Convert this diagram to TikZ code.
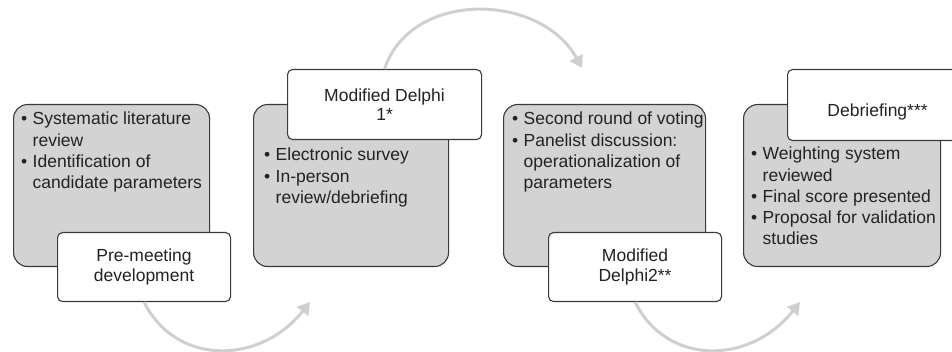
\documentclass[tikz,border=0pt]{standalone}
\usepackage{fontspec}
\setmainfont{Liberation Sans}
\usetikzlibrary{arrows.meta}

\definecolor{panelfill}{HTML}{D3D3D3}
\definecolor{edgegray}{HTML}{3A3A3A}
\definecolor{flowgray}{HTML}{CFCFCF}
\definecolor{inkgray}{HTML}{222222}

% bullet with a fixed-width hang, and the matching indent for wrapped lines
\newcommand{\bul}{\makebox[11.5pt][l]{\textbullet}}
\newcommand{\ind}{\hspace*{11.5pt}}

\begin{document}
\begin{tikzpicture}[x=1pt,y=-1pt,
  panel/.style={draw=edgegray, line width=1.1pt, fill=panelfill,
    rounded corners=14pt, anchor=north west, inner sep=0pt},
  tag/.style={draw=edgegray, line width=1.1pt, fill=white,
    rounded corners=5pt, anchor=north west, inner sep=0pt,
    align=center, text=inkgray, font=\fontsize{17.5}{19.5}\selectfont},
  itemtext/.style={anchor=base west, inner sep=0pt, text=inkgray},
  flow/.style={draw=flowgray, line width=3pt,
    -{Triangle[length=12pt,width=14pt]}}]

\useasboundingbox (0,0) rectangle (952,352);
\clip (0,0) rectangle (952,352);

% grey stage panels
\node[panel, minimum width=196pt, minimum height=162pt] (p1) at (13,104) {};
\node[panel, minimum width=195pt, minimum height=162pt] (p2) at (253,104) {};
\node[panel, minimum width=202pt, minimum height=162pt] (p3) at (503,104) {};
\node[panel, minimum width=197pt, minimum height=162pt] (p4) at (743,104) {};

% bullet lists inside the panels
\node[itemtext] (l1) at (21,125) {\parbox[t]{190pt}{\fontsize{17.5}{21.2}\selectfont
  \bul Systematic literature\\ \ind review\\
  \bul Identification of\\ \ind candidate parameters}};
\node[itemtext] (l2) at (264,161) {\parbox[t]{190pt}{\fontsize{17.5}{21.2}\selectfont
  \bul Electronic survey\\
  \bul In-person\\ \ind review/debriefing}};
\node[itemtext] (l3) at (512,125) {\parbox[t]{195pt}{\fontsize{17.5}{21.2}\selectfont
  \bul Second round of voting\\
  \bul Panelist discussion:\\ \ind operationalization of\\ \ind parameters}};
\node[itemtext] (l4) at (751,160) {\parbox[t]{190pt}{\fontsize{17.5}{21.2}\selectfont
  \bul Weighting system\\ \ind reviewed\\
  \bul Final score presented\\
  \bul Proposal for validation\\ \ind studies}};

% connectors between the stages
\coordinate (e1) at (310,302);
\coordinate (e2) at (582,68);
\coordinate (e3) at (800,302);

% white stage titles
\node[tag, minimum width=173pt, minimum height=69pt] (t1) at (57,232)
  {Pre-meeting\\development};
\node[tag, minimum width=194pt, minimum height=70pt] (t2) at (287,69)
  {Modified Delphi\\1*};
\node[tag, minimum width=173pt, minimum height=69pt] (t3) at (548,232)
  {Modified\\Delphi2**};
\node[tag, minimum width=180pt, minimum height=71pt,
  text height=22pt, text depth=0pt] (t4) at (787,69) {Debriefing***};

\draw[flow] (t1.south) .. controls +(32,64) and +(-50,63) .. (e1);
\draw[flow] (t2.north) .. controls +(26,-79) and +(-42,-76) .. (e2);
\draw[flow] (t3.south) .. controls +(32,64) and +(-50,63) .. (e3);

\end{tikzpicture}
\end{document}
